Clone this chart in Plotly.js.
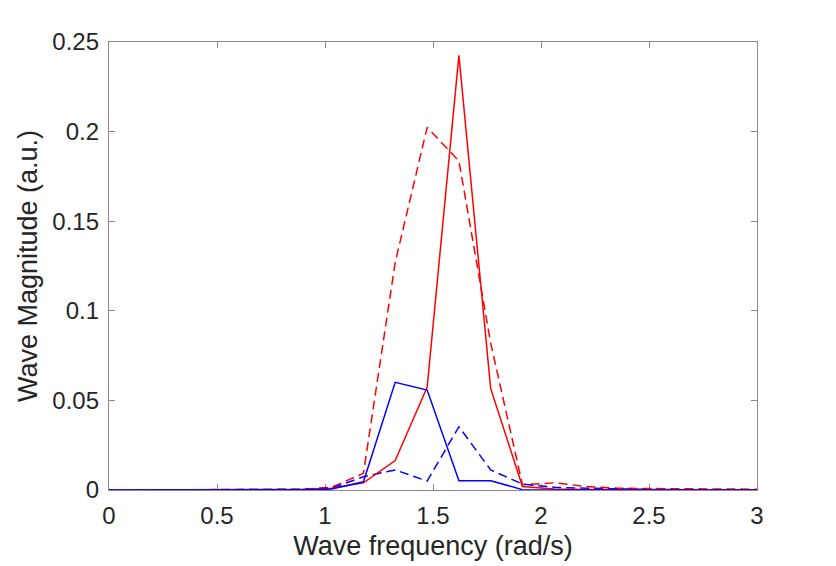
<!DOCTYPE html>
<html>
<head>
<meta charset="utf-8">
<script src="https://cdn.plot.ly/plotly-3.0.1.min.js"></script>
<style>
  html, body { margin: 0; padding: 0; background: #fff; }
  #myDiv { width: 836px; height: 566px; }
</style>
</head>
<body>
<div id="myDiv"></div>
<script>
// wave frequencies (rad/s)
var freq = [0, 0.147, 0.295, 0.442, 0.589, 0.736, 0.884, 1.031, 1.178, 1.325, 1.473,
            1.620, 1.767, 1.914, 2.062, 2.209, 2.356, 2.503, 2.651, 2.798, 2.945, 3.093];

// magnitudes
var redSolid  = [0, 0, 0, 0, 0, 0.0001, 0.0003, 0.001, 0.004, 0.0164, 0.0575,
                 0.2425, 0.0567, 0.002, 0.0005, 0.0003, 0.0002, 0.0001, 0.0001, 0, 0, 0];
var redDash   = [0, 0, 0, 0, 0, 0.0001, 0.0004, 0.0015, 0.0093, 0.127, 0.2024,
                 0.1836, 0.082, 0.003, 0.004, 0.002, 0.001, 0.0008, 0.0006, 0.0005, 0.0004, 0.0004];
var blueSolid = [0, 0, 0, 0, 0, 0, 0.0001, 0.0005, 0.0046, 0.0601, 0.0558,
                 0.0052, 0.0052, 0.0002, 0.0001, 0, 0, 0, 0, 0, 0, 0];
var blueDash  = [0, 0, 0, 0, 0, 0.0001, 0.0003, 0.001, 0.0074, 0.0112, 0.005,
                 0.0353, 0.0112, 0.0033, 0.0015, 0.001, 0.0005, 0.0003, 0.0002, 0.0001, 0.0001, 0.0001];

var xTicks = [0, 0.5, 1, 1.5, 2, 2.5, 3];
var yTicks = [0, 0.05, 0.1, 0.15, 0.2, 0.25];

function line(y, color, dash) {
    return {
        x: freq, y: y, type: 'scatter', mode: 'lines',
        line: {color: color, width: 1.5, dash: dash},
        showlegend: false, hoverinfo: 'skip'
    };
}

var data = [
    line(redDash, 'rgb(255,0,0)', '9px,5px'),
    line(blueDash, 'rgb(0,0,255)', '9px,5px'),
    line(redSolid, 'rgb(255,0,0)', 'solid'),
    line(blueSolid, 'rgb(0,0,255)', 'solid')
];

var fontFam = 'Liberation Sans, Arial, sans-serif';

var axisCommon = {
    showline: true, mirror: 'ticks', linecolor: '#8a8a8a', linewidth: 1.2,
    ticks: 'inside', ticklen: 6, tickcolor: '#8a8a8a', tickwidth: 1,
    showgrid: false, zeroline: false, layer: 'below traces',
    tickfont: {family: fontFam, size: 24, color: '#262626'},
    fixedrange: true
};

var layout = {
    width: 836, height: 566,
    paper_bgcolor: '#fff', plot_bgcolor: '#fff',
    margin: {l: 109, r: 79, t: 42, b: 76},
    xaxis: Object.assign({}, axisCommon, {
        range: [0, 3], tickvals: xTicks, ticktext: xTicks.map(String),
        ticklabelstandoff: 4,
        title: {text: 'Wave frequency (rad/s)', standoff: 8,
                font: {family: fontFam, size: 27, color: '#262626'}}
    }),
    yaxis: Object.assign({}, axisCommon, {
        range: [0, 0.25], tickvals: yTicks, ticktext: yTicks.map(String),
        ticklabelstandoff: 4,
        title: {text: 'Wave Magnitude (a.u.)', standoff: 6,
                font: {family: fontFam, size: 27, color: '#262626'}}
    })
};

Plotly.newPlot('myDiv', data, layout, {staticPlot: true, displayModeBar: false});
</script>
</body>
</html>
